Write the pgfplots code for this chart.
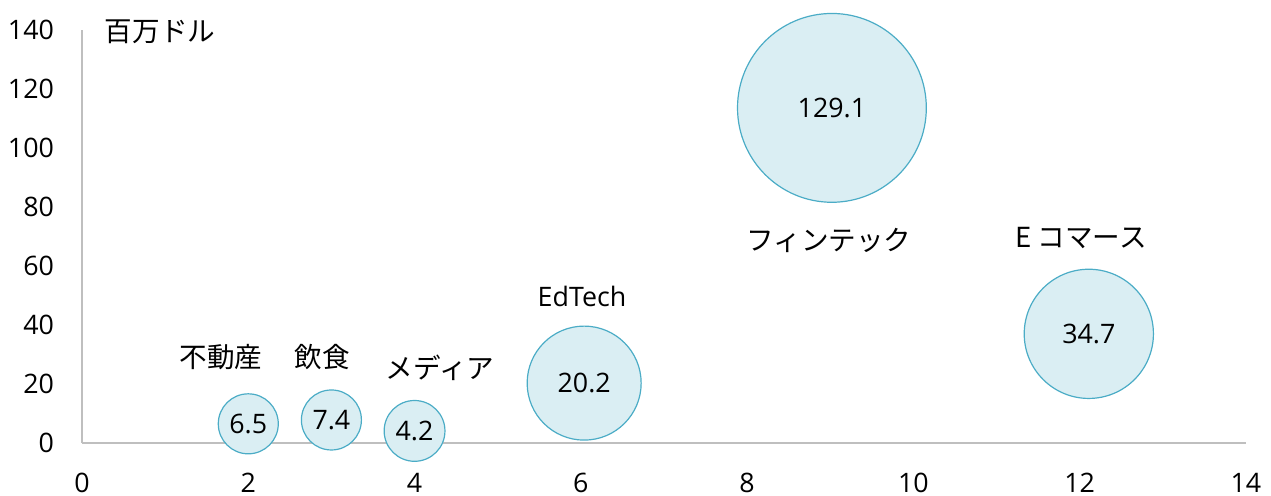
\documentclass[border=0pt]{standalone}
\usepackage{fontspec}
\setmainfont{Open Sans}
\newfontfamily\jp{Noto Sans CJK JP}
\usepackage{pgfplots}
\pgfplotsset{compat=1.18}
\definecolor{bfill}{HTML}{DAEEF3}
\definecolor{bdraw}{HTML}{4BACC6}
\definecolor{axgray}{HTML}{BFBFBF}
\newcommand{\fs}{\fontsize{13.4}{15}\selectfont}
\newcommand{\jfs}{\jp\fontsize{13.8}{15}\selectfont}
\pgfplotsset{bubble/.style={
  only marks, mark=*,
  mark options={draw=bdraw, fill=bfill, line width=0.6pt},
  mark size=#1,
  point meta=explicit symbolic,
  nodes near coords,
  nodes near coords align={center},
  every node near coord/.append style={font=\fs, text=black},
}}
\begin{document}
\begin{tikzpicture}
\begin{axis}[
  x=41.57pt, y=1.475pt,
  xmin=0, xmax=14, ymin=0, ymax=140,
  axis lines*=left,
  axis line style={axgray, line width=0.8pt},
  xtick={0,2,...,14}, ytick={0,20,...,140},
  major tick length=0pt,
  tick label style={font=\fs, text=black},
  /pgf/number format/assume math mode=true,
  yticklabel style={xshift=-10.5pt},
  xticklabel style={yshift=-11.5pt},
  clip=false,
]
\addplot[bubble=15pt] coordinates {(2,6.5) [6.5]};
\addplot[bubble=15pt] coordinates {(3,7.8) [7.4]};
\addplot[bubble=15.2pt] coordinates {(4,4.1) [4.2]};
\addplot[bubble=28.5pt] coordinates {(6.04,20.3) [20.2]};
\addplot[bubble=47.2pt] coordinates {(9.02,113.6) [129.1]};
\addplot[bubble=32.3pt] coordinates {(12.11,37) [34.7]};
\coordinate (o) at (axis cs:0,0);
\node[anchor=west, font=\jfs] at (axis cs:0.19,139.3) {百万ドル};
\node[font=\jfs] at (axis cs:1.672,29.2) {不動産};
\node[font=\jfs] at (axis cs:2.887,29.2) {飲食};
\node[font=\jfs] at (axis cs:4.306,25.4) {メディア};
\node[font=\fs] at (axis cs:6.014,49.8) {EdTech};
\node[font=\jfs] at (axis cs:8.985,68.5) {フィンテック};
\node[font=\jfs] at (axis cs:12.016,69.5) {E コマース};
\end{axis}
\pgfresetboundingbox
\path ([xshift=-41pt,yshift=-26.5pt]o) rectangle ([xshift=594.5pt,yshift=221.5pt]o);
\end{tikzpicture}
\end{document}
